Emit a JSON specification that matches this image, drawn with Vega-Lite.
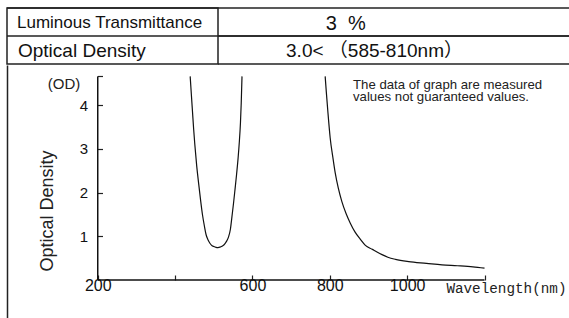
{
  "$schema": "https://vega.github.io/schema/vega-lite/v6.json",
  "padding": {"left": 5, "top": 6, "right": 0, "bottom": 0},
  "background": "white",
  "spacing": 0,
  "config": {
    "font": "Liberation Sans, Noto Sans CJK JP",
    "view": {"stroke": null},
    "axis": {"minExtent": 0, "grid": false}
  },
  "vconcat": [
    {
      "spacing": 0,
      "bounds": "flush",
      "hconcat": [
        {
          "width": 211,
          "height": 56,
          "view": {"stroke": "#222", "strokeWidth": 1.5},
          "data": {"values": [
            {"row": 1, "label": "Luminous Transmittance"},
            {"row": 2, "label": "Optical Density"}
          ]},
          "layer": [
            {
              "mark": {"type": "rule", "color": "#222", "strokeWidth": 1.5},
              "encoding": {"y": {"field": "row", "type": "ordinal", "bandPosition": 0, "scale": {"type": "band", "paddingInner": 0, "paddingOuter": 0}, "axis": null}}
            },
            {
              "transform": [{"filter": "datum.row == 1"}],
              "mark": {"type": "text", "align": "left", "baseline": "middle", "dx": -95.5, "dy": 1, "fontSize": 17, "color": "#111"},
              "encoding": {"y": {"field": "row", "type": "ordinal", "axis": null}, "text": {"field": "label"}}
            },
            {
              "transform": [{"filter": "datum.row == 2"}],
              "mark": {"type": "text", "align": "left", "baseline": "middle", "dx": -94.5, "dy": 1, "fontSize": 19, "color": "#111"},
              "encoding": {"y": {"field": "row", "type": "ordinal", "axis": null}, "text": {"field": "label"}}
            }
          ]
        },
        {
          "width": 353,
          "height": 56,
          "data": {"values": [
            {"row": 1, "value": "3\u00a0\u00a0%"},
            {"row": 2, "value": "3.0< （585-810nm）"}
          ]},
          "layer": [
            {
              "mark": {"type": "rule", "color": "#222", "strokeWidth": 1.5},
              "encoding": {"y": {"field": "row", "type": "ordinal", "bandPosition": 0, "scale": {"type": "band", "paddingInner": 0, "paddingOuter": 0}, "axis": null}}
            },
            {
              "mark": {"type": "rule", "color": "#222", "strokeWidth": 1.5},
              "encoding": {"y": {"field": "row", "type": "ordinal", "bandPosition": 1, "axis": null}}
            },
            {
              "transform": [{"filter": "datum.row == 1"}],
              "mark": {"type": "text", "align": "center", "baseline": "middle", "dx": -48.8, "dy": 1.5, "fontSize": 20, "color": "#111"},
              "encoding": {"y": {"field": "row", "type": "ordinal", "axis": null}, "text": {"field": "value"}}
            },
            {
              "transform": [{"filter": "datum.row == 2"}],
              "mark": {"type": "text", "align": "center", "baseline": "middle", "dx": -20, "dy": 1, "fontSize": 19, "color": "#111"},
              "encoding": {"y": {"field": "row", "type": "ordinal", "axis": null}, "text": {"field": "value"}}
            }
          ]
        }
      ]
    },
    {
      "width": 564,
      "height": 256,
      "resolve": {"scale": {"y": "independent"}, "axis": {"y": "independent"}},
      "layer": [
        {
          "layer": [
            {
              "data": {"values": [
                {"seg": "a", "wl": 439, "od": 4.66},
                {"seg": "a", "wl": 442, "od": 4.25},
                {"seg": "a", "wl": 445, "od": 3.85},
                {"seg": "a", "wl": 448, "od": 3.45},
                {"seg": "a", "wl": 451, "od": 3.1},
                {"seg": "a", "wl": 456, "od": 2.6},
                {"seg": "a", "wl": 461, "od": 2.2},
                {"seg": "a", "wl": 466, "od": 1.82},
                {"seg": "a", "wl": 471, "od": 1.48},
                {"seg": "a", "wl": 476, "od": 1.22},
                {"seg": "a", "wl": 480, "od": 1.04},
                {"seg": "a", "wl": 485, "od": 0.92},
                {"seg": "a", "wl": 490, "od": 0.84},
                {"seg": "a", "wl": 495, "od": 0.79},
                {"seg": "a", "wl": 500, "od": 0.765},
                {"seg": "a", "wl": 506, "od": 0.745},
                {"seg": "a", "wl": 511, "od": 0.74},
                {"seg": "a", "wl": 516, "od": 0.75},
                {"seg": "a", "wl": 521, "od": 0.77},
                {"seg": "a", "wl": 526, "od": 0.8},
                {"seg": "a", "wl": 532, "od": 0.87},
                {"seg": "a", "wl": 538, "od": 0.98},
                {"seg": "a", "wl": 543, "od": 1.16},
                {"seg": "a", "wl": 547, "od": 1.45},
                {"seg": "a", "wl": 551, "od": 1.75},
                {"seg": "a", "wl": 555, "od": 2.08},
                {"seg": "a", "wl": 559, "od": 2.42},
                {"seg": "a", "wl": 563, "od": 2.8},
                {"seg": "a", "wl": 566, "od": 3.15},
                {"seg": "a", "wl": 569, "od": 3.6},
                {"seg": "a", "wl": 571, "od": 4.05},
                {"seg": "a", "wl": 573, "od": 4.66},
                {"seg": "b", "wl": 788, "od": 4.66},
                {"seg": "b", "wl": 791, "od": 4.3},
                {"seg": "b", "wl": 795, "od": 3.85},
                {"seg": "b", "wl": 801, "od": 3.25},
                {"seg": "b", "wl": 808, "od": 2.8},
                {"seg": "b", "wl": 814, "od": 2.45},
                {"seg": "b", "wl": 822, "od": 2.1},
                {"seg": "b", "wl": 831, "od": 1.8},
                {"seg": "b", "wl": 842, "od": 1.52},
                {"seg": "b", "wl": 853, "od": 1.3},
                {"seg": "b", "wl": 865, "od": 1.1},
                {"seg": "b", "wl": 879, "od": 0.93},
                {"seg": "b", "wl": 892, "od": 0.79},
                {"seg": "b", "wl": 910, "od": 0.7},
                {"seg": "b", "wl": 922, "od": 0.64},
                {"seg": "b", "wl": 935, "od": 0.58},
                {"seg": "b", "wl": 950, "od": 0.52},
                {"seg": "b", "wl": 970, "od": 0.47},
                {"seg": "b", "wl": 1004, "od": 0.42},
                {"seg": "b", "wl": 1050, "od": 0.38},
                {"seg": "b", "wl": 1090, "od": 0.345},
                {"seg": "b", "wl": 1130, "od": 0.325},
                {"seg": "b", "wl": 1170, "od": 0.3},
                {"seg": "b", "wl": 1200, "od": 0.27}
              ]},
              "mark": {"type": "line", "color": "#111", "strokeWidth": 1.2, "interpolate": "monotone"},
              "encoding": {
                "x": {
                  "field": "wl", "type": "quantitative",
                  "scale": {"domain": [-34.6, 1423.6], "nice": false, "zero": false},
                  "axis": {
                    "orient": "bottom", "offset": -41, "domain": false,
                    "values": [200, 400, 600, 800, 1000, 1200], "format": "d",
                    "labelExpr": "datum.value == 400 || datum.value == 1200 ? '' : datum.label",
                    "tickSize": -5, "tickColor": "#222", "tickWidth": 1.2,
                    "labelFontSize": 16, "labelColor": "#111", "labelPadding": 2,
                    "title": "Wavelength(nm)", "titleFont": "Liberation Mono", "titleFontSize": 14.3,
                    "titleFontWeight": "normal", "titleColor": "#222",
                    "titleX": 559, "titleY": 8, "titleAlign": "right", "titleBaseline": "middle"
                  }
                },
                "y": {
                  "field": "od", "type": "quantitative",
                  "scale": {"domain": [-0.94, 4.92], "nice": false, "zero": false},
                  "axis": {
                    "orient": "left", "offset": -90.5, "domain": false,
                    "values": [1, 2, 3, 4, 4.66],
                    "labelExpr": "datum.value > 4.5 ? '' : datum.label",
                    "tickSize": -5, "tickColor": "#222", "tickWidth": 1.2,
                    "labelFontSize": 15, "labelColor": "#111", "labelPadding": 15,
                    "title": "Optical Density", "titleFontSize": 18, "titleFontWeight": "normal", "titleColor": "#222",
                    "titleX": -50, "titleY": 145.5, "titleAngle": -90, "titleAlign": "center", "titleBaseline": "middle"
                  }
                },
                "detail": {"field": "seg"}
              }
            },
            {
              "data": {"values": [{"axis": "x"}]},
              "mark": {"type": "rule", "color": "#111", "strokeWidth": 1.5},
              "encoding": {"x": {"datum": 200}, "x2": {"datum": 1200}, "y": {"datum": 0}}
            },
            {
              "data": {"values": [{"axis": "y"}]},
              "mark": {"type": "rule", "color": "#111", "strokeWidth": 1.5},
              "encoding": {"x": {"datum": 200}, "y": {"datum": 0}, "y2": {"datum": 4.66}}
            },
            {
              "data": {"values": [{"t": "(OD)"}]},
              "mark": {"type": "text", "fontSize": 15, "color": "#222", "align": "center", "baseline": "middle"},
              "encoding": {"x": {"datum": 113}, "y": {"datum": 4.49}, "text": {"field": "t"}}
            },
            {
              "data": {"values": [{"t": "The data of graph are measured\nvalues not guaranteed values."}]},
              "mark": {"type": "text", "fontSize": 13.2, "lineHeight": 12, "lineBreak": "\n", "color": "#222", "align": "left", "baseline": "middle"},
              "encoding": {"x": {"datum": 860}, "y": {"datum": 4.46}, "text": {"field": "t"}}
            }
          ]
        },
        {
          "data": {"values": [{"v": 0}]},
          "mark": {"type": "rule", "opacity": 0},
          "encoding": {
            "y": {
              "field": "v", "type": "quantitative",
              "axis": {"orient": "left", "offset": 0, "domain": true, "domainColor": "#222", "domainWidth": 1.5, "ticks": false, "labels": false, "grid": false, "title": null}
            }
          }
        }
      ]
    }
  ]
}
